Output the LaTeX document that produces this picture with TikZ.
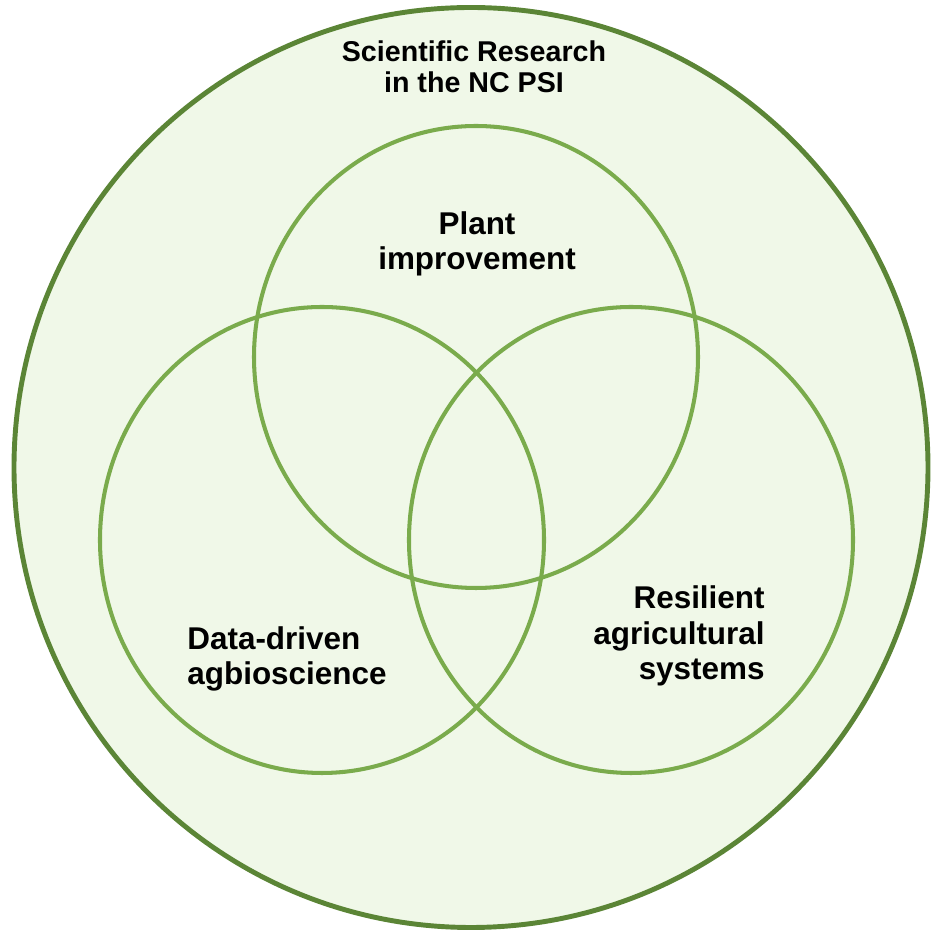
\documentclass[tikz,border=0pt]{standalone}
\usepackage{fontspec}
\setmainfont{Liberation Sans}
\usepackage{tikz}

\definecolor{outergreen}{HTML}{5B8536}
\definecolor{innergreen}{HTML}{7AAB4C}
\definecolor{palegreen}{HTML}{F0F8E8}

\tikzset{
  ring/.style={draw=innergreen,line width=2.3pt},
  lbl/.style={inner sep=0pt,font=\bfseries\fontsize{17.9}{20.2}\selectfont},
}

\begin{document}
\begin{tikzpicture}[x=0.02cm,y=0.02cm] % pixel grid 934 x 933
   \useasboundingbox (0,0) rectangle (934,933);
   \draw[draw=outergreen,fill=palegreen,line width=2.8pt] (471,465.5) ellipse (457 and 460);

   \draw[ring] (476,576) ellipse (222 and 231);
   \draw[ring] (322,393) ellipse (222 and 233);
   \draw[ring] (631,393) ellipse (222 and 233);

   \node[lbl,align=center,font=\bfseries\fontsize{16.3}{17.8}\selectfont] (title) at (474,866) {Scientific Research\\in the NC PSI};
   \node[lbl,align=center] (plant) at (477,689) {Plant\\improvement};
   \node[lbl,align=left,anchor=west] (data) at (187,274) {Data-driven\\agbioscience};
   \node[lbl,align=right,anchor=east] (resil) at (765,297) {Resilient\\agricultural\\systems};
\end{tikzpicture}
\end{document}
